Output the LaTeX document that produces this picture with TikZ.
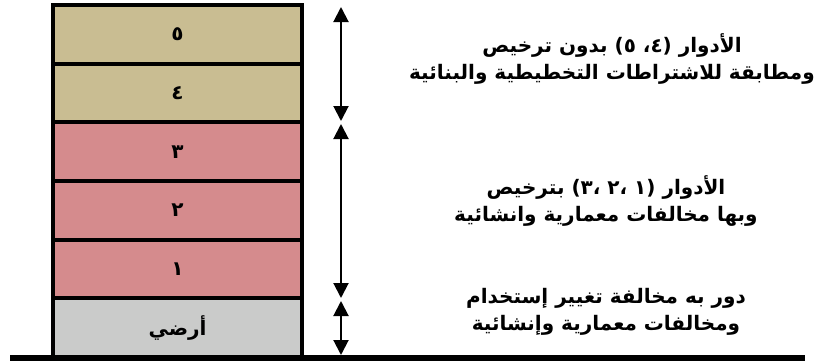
\documentclass[tikz,border=0pt]{standalone}
\usepackage{fontspec}
\newfontfamily\arabicfont[Script=Arabic]{DejaVu Sans}
\TeXXeTstate=1
\usetikzlibrary{arrows.meta}

\definecolor{upperfloor}{RGB}{201,189,146}
\definecolor{licensedfloor}{RGB}{213,139,141}
\definecolor{groundfloor}{RGB}{202,203,202}

\tikzset{
  floorbox/.style={draw=black, line width=4pt, minimum width=249pt,
    minimum height=58.67pt, inner sep=0pt,
    font=\arabicfont\bfseries\fontsize{20}{20}\selectfont},
  span/.style={{Triangle[width=15pt,length=15pt]}-{Triangle[width=15pt,length=15pt]},
    line width=2pt},
  note/.style={align=center, inner sep=0pt,
    font=\arabicfont\bfseries\fontsize{20}{27.5}\selectfont}
}

\begin{document}
\begin{tikzpicture}[x=1pt,y=-1pt]
    \useasboundingbox (0,0) rectangle (823,362);

    % floors, top to bottom
    \node[floorbox, fill=upperfloor]    (f5) at (177.5,34.3)  {\beginR ٥\endR};
    \node[floorbox, fill=upperfloor]    (f4) at (177.5,93.0)  {\beginR ٤\endR};
    \node[floorbox, fill=licensedfloor] (f3) at (177.5,151.7) {\beginR ٣\endR};
    \node[floorbox, fill=licensedfloor] (f2) at (177.5,210.3) {\beginR ٢\endR};
    \node[floorbox, fill=licensedfloor] (f1) at (177.5,269.0) {\beginR ١\endR};
    \node[floorbox, fill=groundfloor]   (f0) at (177.5,327.7) {\beginR أرضي\endR};

    % ground
    \coordinate (gl) at (10,358);
    \coordinate (gr) at (805,358);
    \draw[line width=5.5pt] (gl) -- (gr);

    % height markers
    \coordinate (a1) at (341,7);
    \coordinate (a2) at (341,121);
    \coordinate (a3) at (341,124);
    \coordinate (a4) at (341,298);
    \coordinate (a5) at (341,301);
    \coordinate (a6) at (341,355);
    \draw[span] (a1) -- (a2);
    \draw[span] (a3) -- (a4);
    \draw[span] (a5) -- (a6);

    % notes
    \node[note] (n45) at (612,59)
      {\beginR الأدوار (٤،  ٥) بدون ترخيص\endR\\
       \beginR ومطابقة للاشتراطات التخطيطية والبنائية\endR};
    \node[note] (n123) at (606,201)
      {\beginR الأدوار (١ ،٢ ،٣) بترخيص\endR\\
       \beginR وبها مخالفات معمارية وانشائية\endR};
    \node[note] (n0) at (606,312)
      {\beginR دور به مخالفة تغيير إستخدام\endR\\
       \beginR ومخالفات معمارية وإنشائية\endR};
\end{tikzpicture}
\end{document}
